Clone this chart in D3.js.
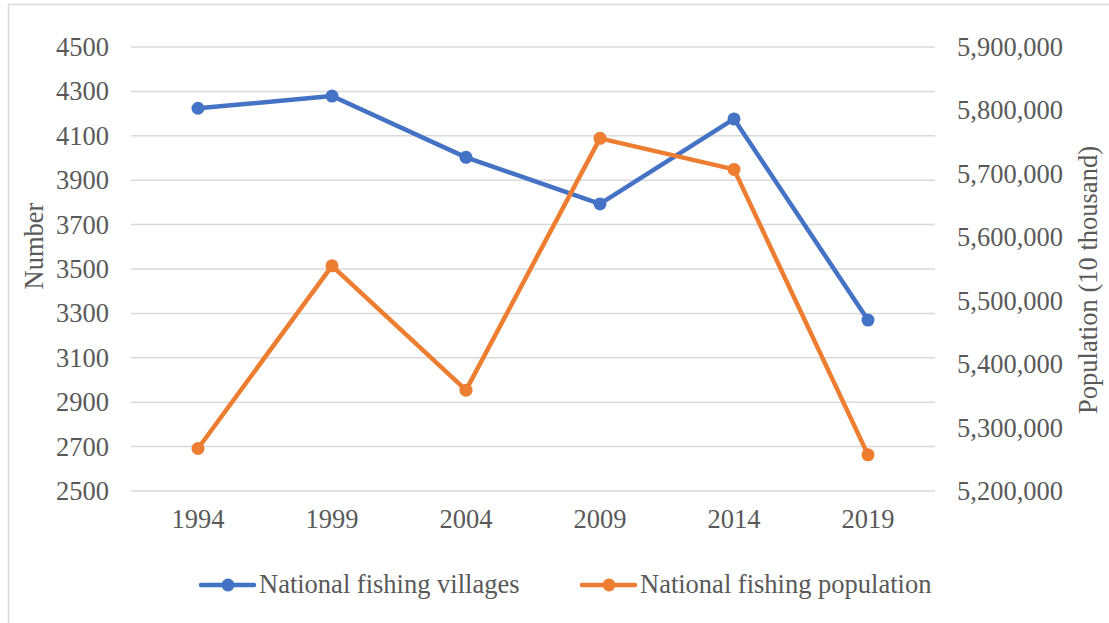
<!DOCTYPE html>
<html>
<head>
<meta charset="utf-8">
<script src="https://cdn.jsdelivr.net/npm/d3@7"></script>
<style>
  body { margin: 0; background: #fff; }
</style>
</head>
<body>
<svg id="chart" width="1109" height="623"></svg>
<script>
// data
var years = ["1994", "1999", "2004", "2009", "2014", "2019"];
var villages = [4224, 4279, 4003, 3793, 4176, 3270];
var population = [5267000, 5555000, 5359000, 5756000, 5707000, 5257000];
var leftTicks = [2500, 2700, 2900, 3100, 3300, 3500, 3700, 3900, 4100, 4300, 4500];
var rightTicks = [5200000, 5300000, 5400000, 5500000, 5600000, 5700000, 5800000, 5900000];

var BLUE = "#4472C4", ORANGE = "#ED7D31", GRID = "#D9D9D9", TEXT = "#595959";
var FONT_FACE = "'Liberation Serif', 'Times New Roman', serif";
var FONT = 26.5;

var svg = d3.select("#chart");
var W = 1109, H = 623;
var plot = { left: 131, right: 935, top: 47, bottom: 491 };

function styleText(sel) {
  sel.style("font-family", FONT_FACE)
     .style("font-size", FONT + "px")
     .style("fill", TEXT);
}

// outer frame
svg.append("rect")
  .attr("x", 8.5).attr("y", 4.5)
  .attr("width", W).attr("height", H)
  .attr("fill", "none").attr("stroke", GRID).attr("stroke-width", 1.5);

var x = d3.scaleBand().domain(years).range([plot.left, plot.right]);
var yL = d3.scaleLinear().domain([2500, 4500]).range([plot.bottom, plot.top]);
var yR = d3.scaleLinear().domain([5200000, 5900000]).range([plot.bottom, plot.top]);

// gridlines
svg.append("g").selectAll("line")
  .data(leftTicks)
.enter()
  .append("line")
  .attr("x1", plot.left).attr("x2", plot.right)
  .attr("y1", function(d) { return yL(d); })
  .attr("y2", function(d) { return yL(d); })
  .attr("stroke", GRID).attr("stroke-width", 1.5);

// left axis
var leftAxis = svg.append("g")
  .attr("transform", "translate(" + (plot.left - 22) + ",0)")
  .call(d3.axisLeft(yL).tickValues(leftTicks).tickSize(0).tickPadding(0).tickFormat(d3.format("d")));
leftAxis.select(".domain").remove();
styleText(leftAxis.selectAll("text"));

// right axis
var rightAxis = svg.append("g")
  .attr("transform", "translate(" + (plot.right + 22) + ",0)")
  .call(d3.axisRight(yR).tickValues(rightTicks).tickSize(0).tickPadding(0).tickFormat(d3.format(",")));
rightAxis.select(".domain").remove();
styleText(rightAxis.selectAll("text"));

// bottom axis
var bottomAxis = svg.append("g")
  .attr("transform", "translate(0," + (plot.bottom + 18) + ")")
  .call(d3.axisBottom(x).tickSize(0).tickPadding(0));
bottomAxis.select(".domain").remove();
styleText(bottomAxis.selectAll("text"));

// axis titles
svg.append("text")
  .attr("transform", "translate(43,246) rotate(-90)")
  .attr("text-anchor", "middle")
  .text("Number")
  .call(styleText);
svg.append("text")
  .attr("transform", "translate(1097,280) rotate(-90)")
  .attr("text-anchor", "middle")
  .text("Population (10 thousand)")
  .call(styleText);

function cx(d, i) { return x(years[i]) + x.bandwidth() / 2; }

//////////////////////////////////
function drawSeries(values, yScale, color) {
  var line = d3.line()
    .x(function(d, i) { return cx(d, i); })
    .y(function(d) { return yScale(d); });
  svg.append("path")
    .datum(values)
    .attr("d", line)
    .attr("fill", "none")
    .attr("stroke", color)
    .attr("stroke-width", 4.5)
    .attr("stroke-linejoin", "round")
    .attr("stroke-linecap", "round");
  svg.append("g").selectAll("circle")
    .data(values)
  .enter()
    .append("circle")
    .attr("cx", cx)
    .attr("cy", function(d) { return yScale(d); })
    .attr("r", 6.5)
    .attr("fill", color);
}

drawSeries(villages, yL, BLUE);
drawSeries(population, yR, ORANGE);

// legend
var legend = [
  { name: "National fishing villages", color: BLUE, x: 200 },
  { name: "National fishing population", color: ORANGE, x: 581 }
];
var lg = svg.append("g").selectAll("g")
  .data(legend)
.enter()
  .append("g")
  .attr("transform", function(d) { return "translate(" + d.x + ",585)"; });
lg.append("line")
  .attr("x1", 1).attr("x2", 54)
  .attr("stroke", function(d) { return d.color; })
  .attr("stroke-width", 4.5).attr("stroke-linecap", "round");
lg.append("circle")
  .attr("cx", 28).attr("r", 6.5)
  .attr("fill", function(d) { return d.color; });
lg.append("text")
  .attr("x", 59).attr("dy", "0.32em")
  .text(function(d) { return d.name; })
  .call(styleText);
</script>
</body>
</html>
